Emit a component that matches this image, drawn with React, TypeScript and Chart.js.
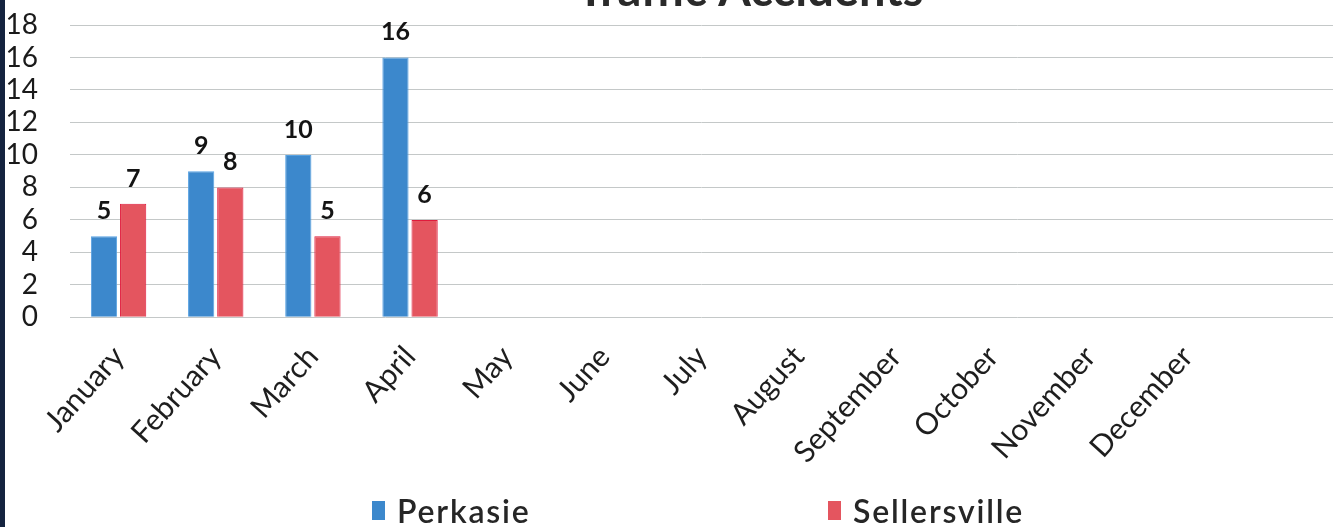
import React, { useEffect, useRef } from "react";
import { Chart, registerables } from "chart.js";

Chart.register(...registerables);

const TITLE = "Traffic Accidents";
const MONTHS = [
  "January", "February", "March", "April", "May", "June",
  "July", "August", "September", "October", "November", "December",
];
const TRAILING_SLOT = [""];
const PERKASIE = [5, 9, 10, 16];
const SELLERSVILLE = [7, 8, 5, 6];
const SERIES_NAMES = ["Perkasie", "Sellersville"];
const SERIES_FILL = ["#3c88cc", "#e4555f"];
const SERIES_BORDER = ["#58a2e2", "#e01b3c"];
const Y_MIN = 0;
const Y_MAX = 18;
const Y_STEP = 2;

const FONT = "Lato, 'Open Sans', 'DejaVu Sans', sans-serif";

const valueLabels = {
  id: "valueLabels",
  afterDatasetsDraw(chart: any) {
    const ctx = chart.ctx;
    ctx.save();
    ctx.font = `bold 25px ${FONT}`;
    ctx.fillStyle = "#141414";
    ctx.textAlign = "center";
    ctx.textBaseline = "alphabetic";
    chart.data.datasets.forEach((ds: any, di: number) => {
      const meta = chart.getDatasetMeta(di);
      meta.data.forEach((el: any, i: number) => {
        const v = ds.data[i];
        if (v === undefined || v === null) return;
        ctx.fillText(String(v), el.x, el.y - 17);
      });
    });
    ctx.restore();
  },
};

const topTitle = {
  id: "topTitle",
  afterDraw(chart: any) {
    const ctx = chart.ctx;
    ctx.save();
    ctx.font = `bold 47px ${FONT}`;
    ctx.fillStyle = "#2a2a2a";
    ctx.textAlign = "center";
    ctx.textBaseline = "alphabetic";
    ctx.fillText(TITLE, chart.width * 0.561, 6);
    ctx.restore();
  },
};

export default function App() {
  const canvasRef = useRef<HTMLCanvasElement | null>(null);

  useEffect(() => {
    if (!canvasRef.current) return;
    const chart = new Chart(canvasRef.current, {
      type: "bar",
      data: {
        labels: [...MONTHS, ...TRAILING_SLOT],
        datasets: [
          {
            label: SERIES_NAMES[0],
            data: PERKASIE,
            backgroundColor: SERIES_FILL[0],
            borderColor: SERIES_BORDER[0],
            borderWidth: 1,
            categoryPercentage: 0.6,
            barPercentage: 0.9,
          },
          {
            label: SERIES_NAMES[1],
            data: SELLERSVILLE,
            backgroundColor: SERIES_FILL[1],
            borderColor: SERIES_BORDER[1],
            borderWidth: 1,
            categoryPercentage: 0.6,
            barPercentage: 0.9,
          },
        ],
      },
      options: {
        animation: false,
        responsive: true,
        maintainAspectRatio: false,
        layout: { padding: { top: 25, bottom: 43, left: 0, right: 0 } },
        plugins: {
          legend: { display: false },
          title: { display: false },
          tooltip: { enabled: false },
        },
        scales: {
          x: {
            grid: { display: false },
            border: { display: false },
            ticks: {
              color: "#1e1e1e",
              font: { family: FONT, size: 30 },
              minRotation: 48,
              maxRotation: 48,
              padding: 14,
              autoSkip: false,
            },
            afterFit: (s: any) => {
              s.paddingLeft = 0;
              s.paddingRight = 0;
            },
          },
          y: {
            min: Y_MIN,
            max: Y_MAX,
            grid: { color: "#c4c8c8", lineWidth: 1, drawTicks: false },
            border: { display: false },
            ticks: {
              stepSize: Y_STEP,
              autoSkip: false,
              color: "#1a1a1a",
              font: { family: FONT, size: 28 },
              padding: 32,
            },
            afterFit: (s: any) => {
              s.width = 65;
              s.paddingTop = 0;
              s.paddingBottom = 0;
            },
          },
        },
      },
      plugins: [valueLabels, topTitle],
    });
    return () => chart.destroy();
  }, []);

  return (
    <div
      style={{
        position: "fixed",
        left: 0,
        top: 0,
        width: 1333,
        height: 527,
        background: "#ffffff",
        overflow: "hidden",
      }}
    >
      <div
        style={{
          position: "absolute",
          left: 0,
          top: 0,
          width: 5,
          height: 527,
          background: "#14233f",
        }}
      />
      <div style={{ position: "absolute", left: 5, top: 0, width: 1328, height: 527 }}>
        <canvas ref={canvasRef} />
      </div>
      <div
        style={{
          position: "absolute",
          left: 372,
          top: 491,
          display: "flex",
          alignItems: "center",
          fontFamily: FONT,
          fontSize: 32,
          fontWeight: 600,
          letterSpacing: 1.8,
          color: "#262626",
        }}
      >
        {SERIES_NAMES.map((name, i) => (
          <div
            key={name}
            style={{ display: "flex", alignItems: "center", width: i === 0 ? 456 : "auto" }}
          >
            <span
              style={{
                display: "inline-block",
                width: 13,
                height: 19,
                background: SERIES_FILL[i],
                marginRight: 12,
              }}
            />
            <span>{name}</span>
          </div>
        ))}
      </div>
    </div>
  );
}
